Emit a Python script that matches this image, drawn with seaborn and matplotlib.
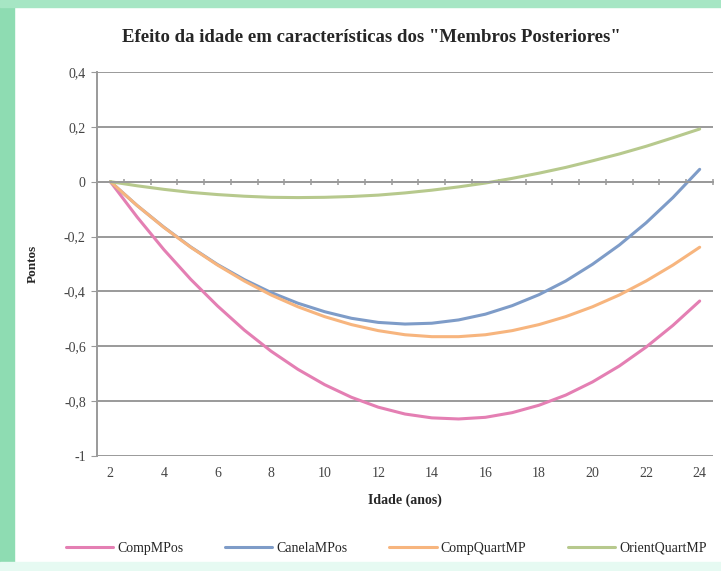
import numpy as np
import pandas as pd
import seaborn as sns
import matplotlib.pyplot as plt
from matplotlib.patches import Rectangle

# Values
idade = list(range(2, 25))
comp_mpos = [0, -0.129, -0.248, -0.356, -0.453, -0.541, -0.618, -0.684, -0.740, -0.786, -0.822, -0.847,
             -0.861, -0.865, -0.859, -0.842, -0.815, -0.778, -0.730, -0.672, -0.603, -0.524, -0.435]
canela_mpos = [0, -0.087, -0.166, -0.238, -0.302, -0.357, -0.404, -0.443, -0.474, -0.498, -0.513, -0.519,
               -0.516, -0.504, -0.483, -0.452, -0.412, -0.362, -0.301, -0.231, -0.150, -0.058, 0.045]
comp_quart = [0, -0.087, -0.167, -0.239, -0.304, -0.362, -0.413, -0.456, -0.492, -0.521, -0.543, -0.558,
              -0.565, -0.565, -0.558, -0.543, -0.521, -0.492, -0.456, -0.413, -0.362, -0.304, -0.239]
orient_quart = [0, -0.015, -0.028, -0.039, -0.047, -0.053, -0.057, -0.058, -0.057, -0.054, -0.049, -0.041,
                -0.031, -0.019, -0.005, 0.012, 0.031, 0.052, 0.076, 0.101, 0.129, 0.160, 0.192]

series = ['CompMPos', 'CanelaMPos', 'CompQuartMP', 'OrientQuartMP']
colors = ['#E47FB3', '#7E9CC8', '#F7B57E', '#B7C98D']
yticks = [0.4, 0.2, 0, -0.2, -0.4, -0.6, -0.8, -1]
ytick_labels = ['0,4', '0,2', '0', '-0,2', '-0,4', '-0,6', '-0,8', '-1']
xticks = list(range(2, 25, 2))

df = pd.DataFrame({'Idade': idade * 4,
                   'Pontos': comp_mpos + canela_mpos + comp_quart + orient_quart,
                   'Serie': np.repeat(series, len(idade))})

sns.set_style('white')
plt.rcParams['font.family'] = ['Liberation Serif', 'DejaVu Serif']

fig = plt.figure(figsize=(7.21, 5.71), dpi=100)
# green frame of the screenshot
fig.patches.append(Rectangle((0, 0), 0.019, 1, transform=fig.transFigure, color='#8EDCB2', zorder=0))
fig.patches.append(Rectangle((0, 0.988), 1, 0.012, transform=fig.transFigure, color='#A6E6C4', zorder=0))
fig.patches.append(Rectangle((0, 0), 1, 0.016, transform=fig.transFigure, color='#E6FAF2', zorder=0))

ax = fig.add_axes([0.1345, 0.2014, 0.8545, 0.6726])
sns.lineplot(data=df, x='Idade', y='Pontos', hue='Serie', palette=colors,
             linewidth=2.2, ax=ax, legend=False)

ax.set_xlim(1.5, 24.5)
ax.set_ylim(-1, 0.4)
ax.set_yticks(yticks)
ax.set_yticklabels(ytick_labels, fontsize=10, color='#444444')
ax.yaxis.grid(True, color='#9a9a9a', linewidth=1.4)
ax.set_axisbelow(True)
for s in ['top', 'right']:
    ax.spines[s].set_visible(False)
ax.spines['left'].set_color('#9a9a9a')
ax.spines['left'].set_linewidth(1.4)
ax.spines['bottom'].set_position(('data', 0))
ax.spines['bottom'].set_color('#9a9a9a')
ax.spines['bottom'].set_linewidth(1.4)
ax.tick_params(axis='y', left=True, length=4, color='#9a9a9a', pad=4)
ax.set_xticks(np.arange(1.5, 25, 1))
ax.tick_params(axis='x', bottom=True, direction='inout', length=5, width=1.1,
               color='#9a9a9a', labelbottom=False)

sec = ax.secondary_xaxis('bottom')
sec.set_xticks(xticks)
sec.set_xticklabels([str(v) for v in xticks], fontsize=10, color='#444444')
sec.tick_params(length=0, pad=8)
sec.spines['bottom'].set_visible(False)
sec.set_xlabel('Idade (anos)', fontsize=10, fontweight='bold', labelpad=10)

ax.set_xlabel('')
ax.set_ylabel('Pontos', fontsize=9.5, fontweight='bold', labelpad=18)
fig.text(0.515, 0.934, 'Efeito da idade em características dos "Membros Posteriores"',
         ha='center', va='center', fontsize=13.5, fontweight='bold')

ax.legend(ax.get_lines()[:4], series, loc='center', bbox_to_anchor=(0.47, -0.24), ncol=4,
          frameon=False, fontsize=10, handlelength=3.4, handletextpad=0.3, columnspacing=3.0)

fig.savefig('out.png', dpi=100)
